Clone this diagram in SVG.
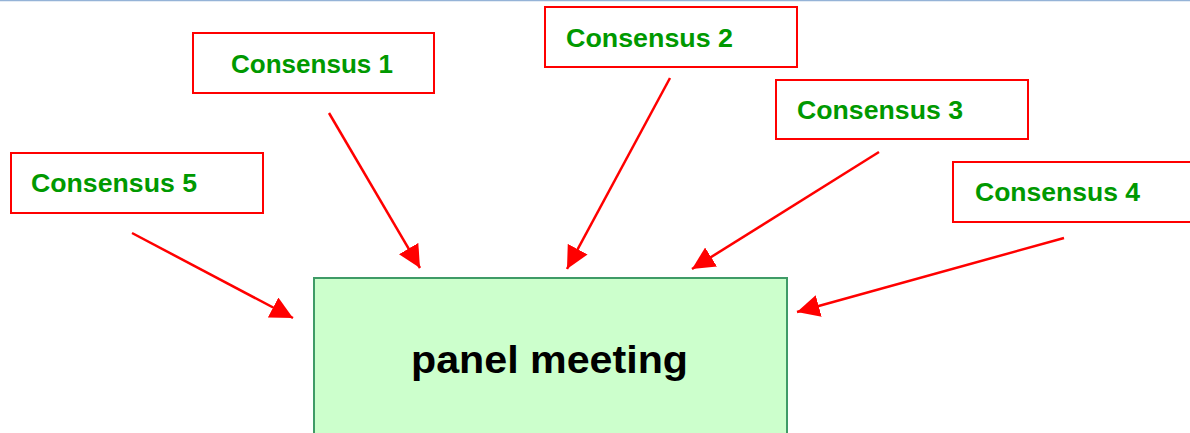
<svg xmlns="http://www.w3.org/2000/svg" width="1190" height="433" viewBox="0 0 1190 433">
  <style>
    .box { fill: #ffffff; stroke: #ff0000; stroke-width: 2; }
    .label { font-family: "Liberation Sans", Arial, sans-serif; font-weight: bold; font-size: 25px; fill: #009900; }
    .main { fill: #ccffcc; stroke: #3f9b67; stroke-width: 2; }
    .title { font-family: "Liberation Sans", Arial, sans-serif; font-weight: bold; font-size: 39px; fill: #000000; }
    .arrow { stroke: #ff0000; stroke-width: 2.5; fill: none; marker-end: url(#head); }
  </style>
  <defs>
    <marker id="head" viewBox="0 0 10 10" refX="10" refY="5" markerWidth="9" markerHeight="9" markerUnits="strokeWidth" orient="auto">
      <path d="M0,0 L10,5 L0,10 Z" fill="#ff0000"/>
    </marker>
  </defs>

  <rect x="0" y="0" width="1190" height="433" fill="#ffffff"/>
  <line x1="0" y1="0.5" x2="1190" y2="0.5" stroke="#95b3d7" stroke-width="1.5"/>

  <g id="consensus1">
    <rect class="box" x="193" y="33" width="241" height="60"/>
    <text class="label" x="231" y="73" textLength="162" lengthAdjust="spacingAndGlyphs">Consensus 1</text>
  </g>
  <g id="consensus2">
    <rect class="box" x="545" y="7" width="252" height="60"/>
    <text class="label" x="566" y="47" textLength="167" lengthAdjust="spacingAndGlyphs">Consensus 2</text>
  </g>
  <g id="consensus3">
    <rect class="box" x="776" y="80" width="252" height="59"/>
    <text class="label" x="797" y="119" textLength="166" lengthAdjust="spacingAndGlyphs">Consensus 3</text>
  </g>
  <g id="consensus4">
    <rect class="box" x="953" y="162" width="252" height="60"/>
    <text class="label" x="975" y="201" textLength="165" lengthAdjust="spacingAndGlyphs">Consensus 4</text>
  </g>
  <g id="consensus5">
    <rect class="box" x="11" y="153" width="252" height="60"/>
    <text class="label" x="31" y="192" textLength="166" lengthAdjust="spacingAndGlyphs">Consensus 5</text>
  </g>

  <g id="panel-meeting">
    <rect class="main" x="314" y="278" width="473" height="170"/>
    <text class="title" x="411" y="373" textLength="277" lengthAdjust="spacingAndGlyphs">panel meeting</text>
  </g>

  <g id="connectors">
    <line class="arrow" x1="329" y1="113" x2="420" y2="268"/>
    <line class="arrow" x1="670" y1="78" x2="567" y2="269"/>
    <line class="arrow" x1="879" y1="152" x2="692" y2="269"/>
    <line class="arrow" x1="1064" y1="238" x2="797" y2="312"/>
    <line class="arrow" x1="132" y1="233" x2="293" y2="318"/>
  </g>
</svg>
